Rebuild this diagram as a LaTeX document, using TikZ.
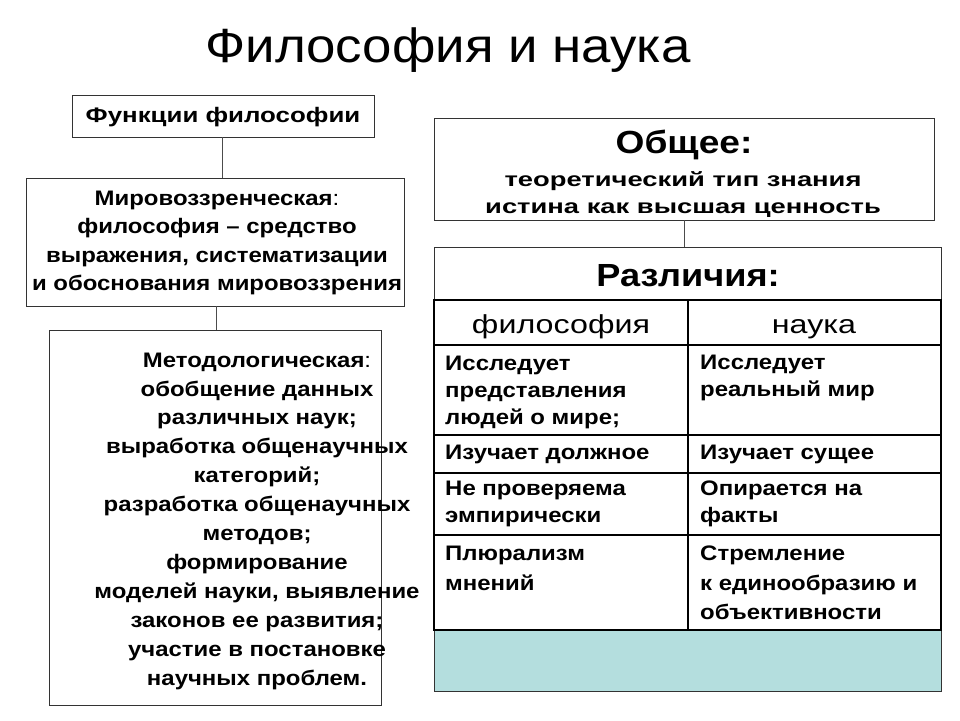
\documentclass[tikz,border=0pt]{standalone}
\usepackage{fontspec}
\setmainfont{Liberation Sans}
\begin{document}
\begin{tikzpicture}[x=1pt,y=-1pt,
  box/.style={draw=black!80,line width=1pt},
  conn/.style={draw=black!70,line width=0.8pt},
  lbl/.style={inner sep=0pt,xscale=1.14,transform shape,font=\bfseries\fontsize{21}{29}\selectfont},
  cell/.style={inner sep=0pt,anchor=west,align=left,xscale=1.14,transform shape,font=\bfseries\fontsize{21}{27}\selectfont}]
\useasboundingbox (0,0) rectangle (960,720);
\node[inner sep=0pt,xscale=1.1,transform shape,font=\fontsize{48}{54}\selectfont] (title) at (448,50) {Философия и наука};
% left
\draw[box] (72,95) rectangle (374,137);
\node[lbl,xscale=1.08] (ff) at (223,117) {Функции философии};
\draw[box] (26,178) rectangle (404,306);
\node[lbl,align=center,font=\bfseries\fontsize{21}{28.5}\selectfont] (mir) at (217,243) {Мировоззренческая\textmd{:}\\философия – средство\\выражения, систематизации\\и обоснования мировоззрения};
\draw[box] (49,330) rectangle (381,705);
\node[lbl,align=center,font=\bfseries\fontsize{21}{28.9}\selectfont] (met) at (257,521) {Методологическая\textmd{:}\\обобщение данных\\различных наук;\\выработка общенаучных\\категорий;\\разработка общенаучных\\методов;\\формирование\\моделей науки, выявление\\законов ее развития;\\участие в постановке\\научных проблем.};
\coordinate (c1a) at (222,137); \coordinate (c1b) at (222,178);
\coordinate (c2a) at (216,306); \coordinate (c2b) at (216,330);
\draw[conn] (c1a) -- (c1b); \draw[conn] (c2a) -- (c2b);
% right
\draw[box] (434,118) rectangle (934,220);
\node[inner sep=0pt,xscale=1.16,transform shape,font=\bfseries\fontsize{32}{36}\selectfont] (ob) at (684,145) {Общее:};
\node[lbl,align=center,xscale=1.2,font=\bfseries\fontsize{20}{27}\selectfont] (obt) at (683,195) {теоретический тип знания\\истина как высшая ценность};
\coordinate (c3a) at (684,220); \coordinate (c3b) at (684,247);
\draw[conn] (c3a) -- (c3b);
\fill[fill={rgb,255:red,180;green,222;blue,222}] (434,630) rectangle (941,691);
\draw[box] (434,247) rectangle (941,691);
\node[inner sep=0pt,xscale=1.13,transform shape,font=\bfseries\fontsize{32}{36}\selectfont] (raz) at (688,276) {Различия:};
\draw[line width=2pt] (434,300) rectangle (941,630);
\draw[line width=1.2pt] (688,300) -- (688,630);
\foreach \yy in {345,435,473,535} \draw[line width=1.2pt] (434,\yy) -- (941,\yy);
\node[inner sep=0pt,anchor=base,xscale=1.24,transform shape,font=\fontsize{26}{30}\selectfont] (hf) at (561,333) {философия};
\node[inner sep=0pt,anchor=base,xscale=1.24,transform shape,font=\fontsize{26}{30}\selectfont] (hn) at (814,333) {наука};
\node[cell] (a1) at (445,392) {Исследует\\представления\\людей о мире;};
\node[cell] (b1) at (700,378) {Исследует\\реальный мир};
\node[cell] (a2) at (445,454) {Изучает должное};
\node[cell] (b2) at (700,454) {Изучает сущее};
\node[cell] (a3) at (445,504) {Не проверяема\\эмпирически};
\node[cell] (b3) at (700,504) {Опирается на\\факты};
\node[cell,font=\bfseries\fontsize{21}{30}\selectfont] (a4) at (445,568) {Плюрализм\\мнений};
\node[cell,font=\bfseries\fontsize{21}{29.5}\selectfont] (b4) at (700,583) {Стремление\\к единообразию и\\объективности};
\end{tikzpicture}
\end{document}
